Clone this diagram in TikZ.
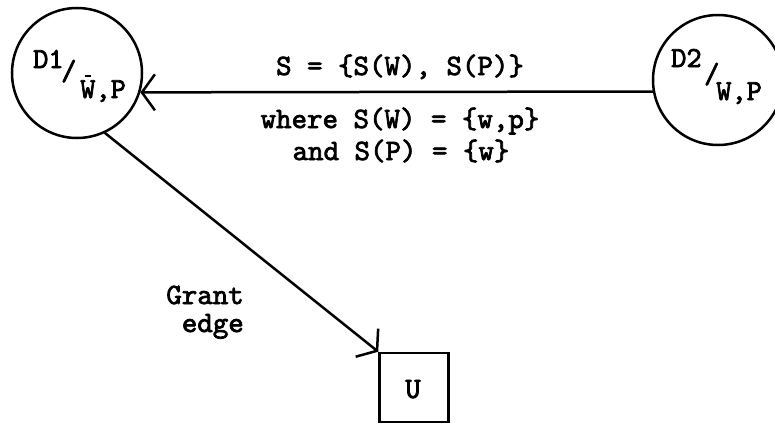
\documentclass[tikz,border=0pt]{standalone}
\usepackage{fontspec}
\usetikzlibrary{arrows.meta}
\newfontfamily\tw{lmmono10-regular.otf}[FakeBold=2.5]
\tikzset{
  lw/.style={line width=2.5pt},
  dnode/.style={circle, draw, lw, minimum size=130pt, inner sep=0pt},
  ubox/.style={rectangle, draw, lw, minimum size=69pt, inner sep=0pt},
  txt/.style={font=\tw\fontsize{29.5}{32}\selectfont, inner sep=0pt, anchor=base},
  lab/.style={font=\tw\fontsize{29}{32}\selectfont, inner sep=0pt, anchor=base west},
  arr/.style={lw, line cap=round, -{Straight Barb[length=13pt,width=36pt,line width=2.5pt]}}
}
\begin{document}
\begin{tikzpicture}[x=1pt,y=-1pt]
\useasboundingbox (0,0) rectangle (775,423);
\node[dnode] (D1) at (77,73) {};
\node[dnode] (D2) at (718,80) {};
\node[ubox] (U) at (414,387.5) {};
\node[txt] (Ul) at (413,398) {U};
% labels inside circles
\node[lab] (d1a) at (33,68) {D1};
\node[lab] (d1s) at (61,80) {/};
\node[lab] (d1b) at (80,98) {W,P};
\draw[line width=1.6pt] ([shift={(5,-4)}]d1b.north west) -- ++(6,0);
\node[lab] (d2a) at (671,67) {D2};
\node[lab] (d2s) at (704,83) {/};
\node[lab] (d2b) at (716,100) {W,P};
% connectors
\draw[arr] (D2.190) -- (D1.343);
\draw[arr] (D1.-65) -- (U.north west);
% texts
\node[txt] (s1) at (400,75) {S = \{S(W), S(P)\}};
\node[txt] (s2) at (400,128) {where S(W) = \{w,p\}};
\node[txt] (s3) at (401,160) {and S(P) = \{w\}};
\node[txt, anchor=base east] (g1) at (244,304) {Grant};
\node[txt, anchor=base east] (g2) at (244,332) {edge};
\end{tikzpicture}
\end{document}
